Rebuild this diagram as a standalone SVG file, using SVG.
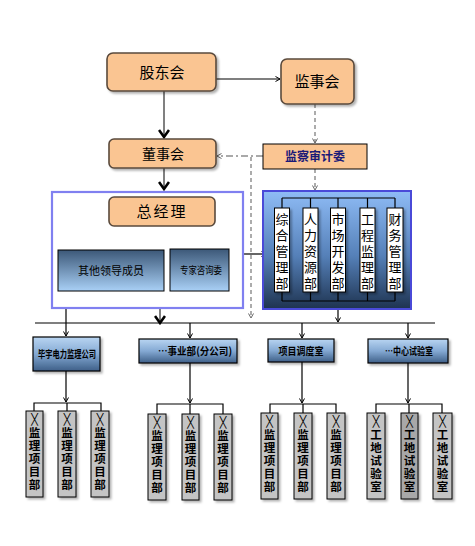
<svg xmlns="http://www.w3.org/2000/svg" width="475" height="546" viewBox="0 0 475 546">
<style>
text{font-family:"Noto Sans CJK SC","Noto Sans",sans-serif;fill:#000;text-anchor:middle}
.org{fill:#fac592;stroke:#5a4a3c;stroke-width:1.6}
.ln{stroke:#000;stroke-width:1.2;fill:none}
.gl{stroke:#808080;stroke-width:2;fill:none}
.dash{stroke:#808080;stroke-width:1.3;fill:none;stroke-dasharray:4,3}
.dd{stroke:#555;stroke-width:1.2;fill:none;stroke-dasharray:7,3,2,3}
.dept{fill:#fff;stroke:#000;stroke-width:1}
.sm{fill:#c4c4c4;stroke:#000;stroke-width:1}
.smt{font-size:11.5px;font-weight:bold}
.x{font-size:11px;font-family:"DejaVu Sans",sans-serif}
.brt{font-size:10.5px;font-weight:bold}
</style>
<defs>
<marker id="a" markerUnits="userSpaceOnUse" viewBox="0 0 6 6" refX="5" refY="3" markerWidth="6" markerHeight="6" orient="auto"><path d="M0.5,0.5 L5,3 L0.5,5.5" fill="none" stroke="#000" stroke-width="1"/></marker>
<marker id="ag" markerUnits="userSpaceOnUse" viewBox="0 0 6 6" refX="5" refY="3" markerWidth="6" markerHeight="6" orient="auto"><path d="M0.5,0.5 L5,3 L0.5,5.5" fill="none" stroke="#666" stroke-width="1"/></marker>
<marker id="ab" markerUnits="userSpaceOnUse" viewBox="0 0 10 12" refX="8" refY="6" markerWidth="10" markerHeight="12" orient="auto"><path d="M1,1 L8,6 L1,11" fill="none" stroke="#000" stroke-width="2.6"/></marker>
<linearGradient id="gLead" x1="0" y1="0" x2="0" y2="1"><stop offset="0" stop-color="#3c5878"/><stop offset="1" stop-color="#a9d0f6"/></linearGradient>
<linearGradient id="gRight" x1="0" y1="0" x2="0" y2="1"><stop offset="0" stop-color="#8fbcf6"/><stop offset="0.55" stop-color="#5580b8"/><stop offset="1" stop-color="#1e3350"/></linearGradient>
<linearGradient id="gBr" x1="0" y1="0" x2="0" y2="1"><stop offset="0" stop-color="#b9d5f2"/><stop offset="0.5" stop-color="#84a9d3"/><stop offset="1" stop-color="#3e5f88"/></linearGradient>
<filter id="sh" x="-20%" y="-20%" width="160%" height="160%"><feDropShadow dx="2" dy="2" stdDeviation="0.8" flood-color="#000" flood-opacity="0.3"/></filter>
</defs>

<g id="connectors">
<path class="ln" d="M216,79 H280" marker-end="url(#a)"/>
<path class="gl" d="M164,91 V137"/>
<path d="M164,128 V137" stroke="none" marker-end="url(#ab)"/>
<path class="dash" d="M315,104 V143" marker-end="url(#ag)"/>
<path class="dd" d="M263,156 H217" marker-end="url(#ag)"/>
<path class="dash" d="M251,157 V318" marker-end="url(#ag)"/>
<path class="dash" d="M315,169 V190" marker-end="url(#ag)"/>
<path class="gl" d="M164,168 V188"/>
<path d="M164,180 V189" stroke="none" marker-end="url(#ab)"/>
<path class="ln" d="M137,226 V237 H101 V249" marker-end="url(#a)"/>
<path class="ln" d="M162,236 V227" marker-end="url(#a)"/>
<path class="ln" d="M162,237 H204 V248" stroke-dasharray="5,3" marker-end="url(#a)"/>
<path class="ln" d="M243,254 H266" marker-end="url(#a)"/>
<path class="ln" d="M35,323 H435"/>
<path class="gl" d="M160,308 V322"/>
<path d="M160,314 V323" stroke="none" marker-end="url(#ab)"/>
<path class="ln" d="M338,309 V322" marker-end="url(#a)"/>
<path class="ln" d="M66,308 V336" marker-end="url(#a)"/>
<path class="ln" d="M190,323 V338" marker-end="url(#a)"/>
<path class="ln" d="M302,323 V338" marker-end="url(#a)"/>
<path class="ln" d="M408,323 V338" marker-end="url(#a)"/>
<path class="ln" d="M66,371 V402" marker-end="url(#a)"/>
<path class="ln" d="M34,411 V403 H101 V411 M67,403 V411"/>
<path class="ln" d="M190,363 V403" marker-end="url(#a)"/>
<path class="ln" d="M157,414 V404 H223 V414 M190,404 V414"/>
<path class="ln" d="M302,362 V403" marker-end="url(#a)"/>
<path class="ln" d="M270,413 V404 H336 V413 M303,404 V413"/>
<path class="ln" d="M408,363 V403" marker-end="url(#a)"/>
<path class="ln" d="M376,413 V404 H442 V413 M409,404 V413"/>
</g>

<g id="gudonghui"><rect class="org" x="107" y="53" width="109" height="38" rx="6" filter="url(#sh)"/><text x="162" y="78" font-size="15">股东会</text></g>
<g id="jianshihui"><rect class="org" x="281" y="59" width="73" height="45" rx="6" filter="url(#sh)"/><text x="317" y="87" font-size="15">监事会</text></g>
<g id="dongshihui"><rect class="org" x="109" y="139" width="107" height="29" rx="5" filter="url(#sh)"/><text x="163" y="159" font-size="14">董事会</text></g>
<g id="jiancha"><rect x="263" y="144" width="104" height="25" fill="#fac592" stroke="#000" stroke-width="1"/><text x="315" y="161" font-size="12" font-weight="bold" style="fill:#1a1a78">监察审计委</text></g>

<g id="leftbox"><rect x="52" y="192" width="191" height="116" fill="#fff" stroke="#8080f0" stroke-width="2.2"/></g>
<g id="zongjingli"><rect class="org" x="109" y="197" width="106" height="29" rx="5"/><text x="162" y="217" font-size="15" letter-spacing="2">总经理</text></g>
<g id="qita"><rect x="58" y="250" width="106" height="41" fill="url(#gLead)" stroke="#000" stroke-width="1"/><text x="111" y="275" font-size="11">其他领导成员</text></g>
<g id="zhuanjia"><rect x="170" y="249" width="59" height="42" fill="url(#gLead)" stroke="#000" stroke-width="1"/><text x="201" y="274" font-size="10" textLength="42" lengthAdjust="spacingAndGlyphs">专家咨询委</text></g>

<g id="rightbox"><rect x="263" y="191" width="148" height="118" fill="url(#gRight)" stroke="#4a4ad8" stroke-width="2"/>
<path class="ln" d="M282,198 H395 M282,198 V208 M310.5,198 V208 M338,198 V208 M367.5,198 V208 M395,198 V208 M282,301 H395 M282,292 V301 M310.5,292 V301 M338,292 V301 M367.5,292 V301 M395,292 V301" stroke-width="1"/></g>
<g id="dept1"><rect class="dept" x="274.5" y="208" width="15" height="84" filter="url(#sh)"/><text x="282" font-size="13"><tspan x="282" y="224">综</tspan><tspan x="282" y="240">合</tspan><tspan x="282" y="256">管</tspan><tspan x="282" y="272">理</tspan><tspan x="282" y="288">部</tspan></text></g>
<g id="dept2"><rect class="dept" x="303" y="208" width="15" height="84" filter="url(#sh)"/><text x="310.5" font-size="13"><tspan x="310.5" y="224">人</tspan><tspan x="310.5" y="240">力</tspan><tspan x="310.5" y="256">资</tspan><tspan x="310.5" y="272">源</tspan><tspan x="310.5" y="288">部</tspan></text></g>
<g id="dept3"><rect class="dept" x="330.5" y="208" width="15" height="84" filter="url(#sh)"/><text x="338" font-size="13"><tspan x="338" y="224">市</tspan><tspan x="338" y="240">场</tspan><tspan x="338" y="256">开</tspan><tspan x="338" y="272">发</tspan><tspan x="338" y="288">部</tspan></text></g>
<g id="dept4"><rect class="dept" x="360" y="208" width="15" height="84" filter="url(#sh)"/><text x="367.5" font-size="13"><tspan x="367.5" y="224">工</tspan><tspan x="367.5" y="240">程</tspan><tspan x="367.5" y="256">监</tspan><tspan x="367.5" y="272">理</tspan><tspan x="367.5" y="288">部</tspan></text></g>
<g id="dept5"><rect class="dept" x="387" y="208" width="16" height="84" filter="url(#sh)"/><text x="395" font-size="13"><tspan x="395" y="224">财</tspan><tspan x="395" y="240">务</tspan><tspan x="395" y="256">管</tspan><tspan x="395" y="272">理</tspan><tspan x="395" y="288">部</tspan></text></g>

<g id="br1"><rect x="33" y="337" width="67" height="34" fill="url(#gBr)" stroke="#000" stroke-width="1.2" filter="url(#sh)"/><text class="brt" x="67" y="358" textLength="58" lengthAdjust="spacingAndGlyphs">毕宇电力监理公司</text></g>
<g id="br2"><rect x="139" y="339" width="98" height="24" fill="url(#gBr)" stroke="#000" stroke-width="1.2" filter="url(#sh)"/><text class="brt" x="195" y="355" textLength="74" lengthAdjust="spacingAndGlyphs">…事业部(分公司)</text></g>
<g id="br3"><rect x="268" y="339" width="66" height="23" fill="url(#gBr)" stroke="#000" stroke-width="1.2" filter="url(#sh)"/><text class="brt" x="301" y="355" textLength="45" lengthAdjust="spacingAndGlyphs">项目调度室</text></g>
<g id="br4"><rect x="368" y="339" width="80" height="24" fill="url(#gBr)" stroke="#000" stroke-width="1.2" filter="url(#sh)"/><text class="brt" x="409" y="355" textLength="48" lengthAdjust="spacingAndGlyphs">…中心试验室</text></g>

<g id="p1"><rect class="sm" x="26" y="411" width="17" height="86" filter="url(#sh)"/><text class="x" x="34.5" y="423">╳</text><text class="smt"><tspan x="34.5" y="437">监</tspan><tspan x="34.5" y="450">理</tspan><tspan x="34.5" y="463">项</tspan><tspan x="34.5" y="476">目</tspan><tspan x="34.5" y="489">部</tspan></text></g>
<g id="p2"><rect class="sm" x="58" y="411" width="18" height="86" filter="url(#sh)"/><text class="x" x="67" y="423">╳</text><text class="smt"><tspan x="67" y="437">监</tspan><tspan x="67" y="450">理</tspan><tspan x="67" y="463">项</tspan><tspan x="67" y="476">目</tspan><tspan x="67" y="489">部</tspan></text></g>
<g id="p3"><rect class="sm" x="91" y="411" width="18" height="86" filter="url(#sh)"/><text class="x" x="100" y="423">╳</text><text class="smt"><tspan x="100" y="437">监</tspan><tspan x="100" y="450">理</tspan><tspan x="100" y="463">项</tspan><tspan x="100" y="476">目</tspan><tspan x="100" y="489">部</tspan></text></g>
<g id="p4"><rect class="sm" x="148" y="414" width="18" height="86" filter="url(#sh)"/><text class="x" x="157" y="426">╳</text><text class="smt"><tspan x="157" y="440">监</tspan><tspan x="157" y="453">理</tspan><tspan x="157" y="466">项</tspan><tspan x="157" y="479">目</tspan><tspan x="157" y="492">部</tspan></text></g>
<g id="p5"><rect class="sm" x="182" y="414" width="17" height="86" filter="url(#sh)"/><text class="x" x="190.5" y="426">╳</text><text class="smt"><tspan x="190.5" y="440">监</tspan><tspan x="190.5" y="453">理</tspan><tspan x="190.5" y="466">项</tspan><tspan x="190.5" y="479">目</tspan><tspan x="190.5" y="492">部</tspan></text></g>
<g id="p6"><rect class="sm" x="214" y="414" width="18" height="86" filter="url(#sh)"/><text class="x" x="223" y="426">╳</text><text class="smt"><tspan x="223" y="440">监</tspan><tspan x="223" y="453">理</tspan><tspan x="223" y="466">项</tspan><tspan x="223" y="479">目</tspan><tspan x="223" y="492">部</tspan></text></g>
<g id="p7"><rect class="sm" x="261" y="413" width="17" height="86" filter="url(#sh)"/><text class="x" x="269.5" y="425">╳</text><text class="smt"><tspan x="269.5" y="439">监</tspan><tspan x="269.5" y="452">理</tspan><tspan x="269.5" y="465">项</tspan><tspan x="269.5" y="478">目</tspan><tspan x="269.5" y="491">部</tspan></text></g>
<g id="p8"><rect class="sm" x="294" y="413" width="18" height="86" filter="url(#sh)"/><text class="x" x="303" y="425">╳</text><text class="smt"><tspan x="303" y="439">监</tspan><tspan x="303" y="452">理</tspan><tspan x="303" y="465">项</tspan><tspan x="303" y="478">目</tspan><tspan x="303" y="491">部</tspan></text></g>
<g id="p9"><rect class="sm" x="327" y="413" width="18" height="86" filter="url(#sh)"/><text class="x" x="336" y="425">╳</text><text class="smt"><tspan x="336" y="439">监</tspan><tspan x="336" y="452">理</tspan><tspan x="336" y="465">项</tspan><tspan x="336" y="478">目</tspan><tspan x="336" y="491">部</tspan></text></g>
<g id="p10"><rect class="sm" x="367" y="413" width="18" height="86" filter="url(#sh)"/><text class="x" x="376" y="425">╳</text><text class="smt"><tspan x="376" y="439">工</tspan><tspan x="376" y="452">地</tspan><tspan x="376" y="465">试</tspan><tspan x="376" y="478">验</tspan><tspan x="376" y="491">室</tspan></text></g>
<g id="p11"><rect x="401" y="413" width="17" height="86" fill="#a8a8a8" stroke="#000" stroke-width="1" filter="url(#sh)"/><text class="x" x="409.5" y="425">╳</text><text class="smt"><tspan x="409.5" y="439">工</tspan><tspan x="409.5" y="452">地</tspan><tspan x="409.5" y="465">试</tspan><tspan x="409.5" y="478">验</tspan><tspan x="409.5" y="491">室</tspan></text></g>
<g id="p12"><rect class="sm" x="433" y="413" width="19" height="86" filter="url(#sh)"/><text class="x" x="442.5" y="425">╳</text><text class="smt"><tspan x="442.5" y="439">工</tspan><tspan x="442.5" y="452">地</tspan><tspan x="442.5" y="465">试</tspan><tspan x="442.5" y="478">验</tspan><tspan x="442.5" y="491">室</tspan></text></g>
</svg>
